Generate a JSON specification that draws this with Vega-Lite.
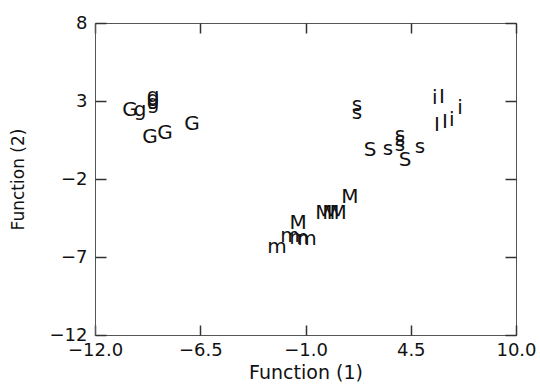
{
  "$schema": "https://vega.github.io/schema/vega-lite/v6.json",
  "width": 421,
  "height": 312,
  "autosize": "none",
  "padding": {"left": 95, "top": 23, "right": 24, "bottom": 50},
  "background": "white",
  "config": {
    "view": {"stroke": "#555", "strokeWidth": 1},
    "font": "DejaVu Sans",
    "axis": {"domainColor": "#555", "labelColor": "#111", "titleColor": "#111", "labelFont": "DejaVu Sans", "titleFont": "DejaVu Sans", "titleFontWeight": "normal", "grid": false, "labelFlush": false}
  },
  "data": {
    "values": [
      {"x": -10.17, "y": 2.42, "label": "G"},
      {"x": -9.65, "y": 2.4, "label": "g"},
      {"x": -8.97, "y": 3.35, "label": "g"},
      {"x": -8.97, "y": 3.1, "label": "g"},
      {"x": -8.97, "y": 2.85, "label": "g"},
      {"x": -9.13, "y": 0.69, "label": "G"},
      {"x": -8.34, "y": 0.95, "label": "G"},
      {"x": -6.93, "y": 1.53, "label": "G"},
      {"x": 1.69, "y": 2.75, "label": "s"},
      {"x": 1.69, "y": 2.2, "label": "s"},
      {"x": 2.37, "y": -0.14, "label": "S"},
      {"x": 3.31, "y": -0.1, "label": "s"},
      {"x": 3.94, "y": 0.8, "label": "s"},
      {"x": 3.94, "y": 0.48, "label": "s"},
      {"x": 3.94, "y": 0.16, "label": "s"},
      {"x": 4.2, "y": -0.78, "label": "S"},
      {"x": 4.98, "y": 0.03, "label": "s"},
      {"x": 5.76, "y": 3.19, "label": "i"},
      {"x": 6.13, "y": 3.26, "label": "I"},
      {"x": 5.87, "y": 1.46, "label": "I"},
      {"x": 6.29, "y": 1.65, "label": "I"},
      {"x": 6.65, "y": 1.78, "label": "i"},
      {"x": 7.07, "y": 2.55, "label": "i"},
      {"x": 1.32, "y": -3.15, "label": "M"},
      {"x": -0.04, "y": -4.18, "label": "M"},
      {"x": 0.33, "y": -4.18, "label": "M"},
      {"x": 0.7, "y": -4.18, "label": "M"},
      {"x": -1.39, "y": -4.82, "label": "M"},
      {"x": -1.81, "y": -5.65, "label": "m"},
      {"x": -1.34, "y": -5.78, "label": "m"},
      {"x": -0.92, "y": -5.85, "label": "m"},
      {"x": -2.49, "y": -6.36, "label": "m"}
    ]
  },
  "layer": [
    {
      "mark": {"type": "text", "fontSize": 20, "font": "DejaVu Sans", "color": "#111", "baseline": "middle", "align": "center"},
      "encoding": {
        "x": {
          "field": "x", "type": "quantitative",
          "scale": {"domain": [-12, 10], "nice": false, "zero": false},
          "axis": {"orient": "bottom", "values": [-12, -6.5, -1, 4.5, 10], "format": ".1f", "title": "Function (1)", "ticks": true, "tickSize": 0, "tickColor": "#555", "labelPadding": 6, "labelFontSize": 18, "titleFontSize": 19, "titlePadding": 4}
        },
        "y": {
          "field": "y", "type": "quantitative",
          "scale": {"domain": [-12, 8], "nice": false, "zero": false},
          "axis": {"orient": "left", "values": [-12, -7, -2, 3, 8], "format": "d", "title": "Function (2)", "ticks": true, "tickSize": 0, "tickColor": "#555", "labelPadding": 8, "labelFontSize": 18, "titleFontSize": 17, "titlePadding": 22}
        },
        "text": {"field": "label"}
      }
    },
    {
      "mark": {"type": "text", "fontSize": 20, "opacity": 0},
      "encoding": {
        "x": {
          "field": "x", "type": "quantitative",
          "axis": {"orient": "top", "offset": -312, "values": [-12, -6.5, -1, 4.5, 10], "labels": false, "domain": false, "ticks": true, "tickColor": "#333", "tickWidth": 1.5, "tickSize": 10, "title": null}
        },
        "y": {
          "field": "y", "type": "quantitative",
          "axis": {"orient": "right", "offset": -421, "values": [-12, -7, -2, 3, 8], "labels": false, "domain": false, "ticks": true, "tickColor": "#333", "tickWidth": 1.5, "tickSize": 11, "title": null}
        },
        "text": {"field": "label"}
      }
    },
    {
      "mark": {"type": "text", "fontSize": 20, "opacity": 0},
      "encoding": {
        "x": {
          "field": "x", "type": "quantitative",
          "axis": {"orient": "bottom", "offset": -312, "values": [-12, -6.5, -1, 4.5, 10], "labels": false, "domain": false, "ticks": true, "tickColor": "#333", "tickWidth": 1.5, "tickSize": 10, "title": null}
        },
        "y": {
          "field": "y", "type": "quantitative",
          "axis": {"orient": "left", "offset": -421, "values": [-12, -7, -2, 3, 8], "labels": false, "domain": false, "ticks": true, "tickColor": "#333", "tickWidth": 1.5, "tickSize": 11, "title": null}
        },
        "text": {"field": "label"}
      }
    }
  ],
  "resolve": {"axis": {"x": "independent", "y": "independent"}}
}
